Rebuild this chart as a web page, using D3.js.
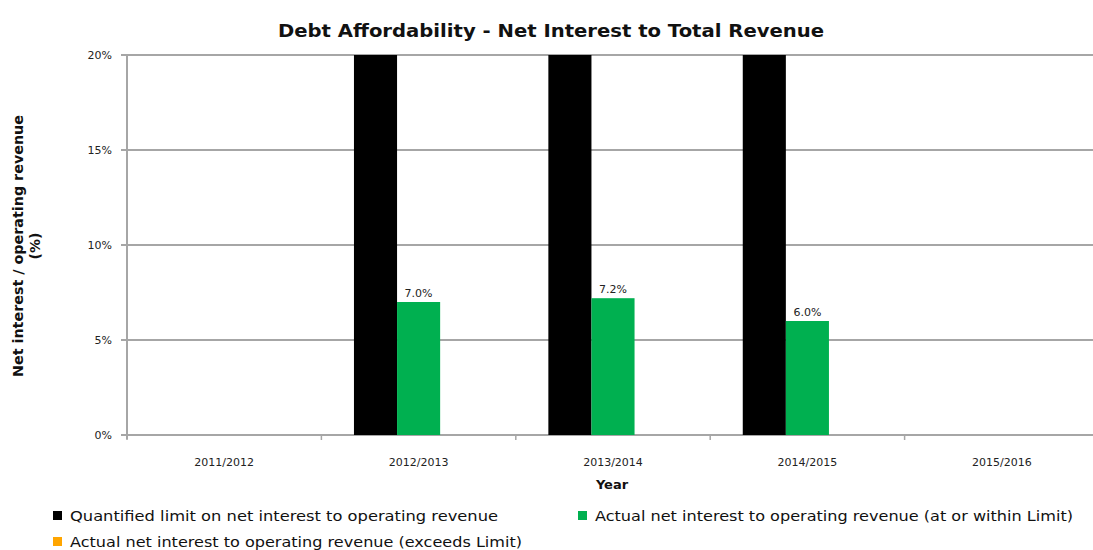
<!DOCTYPE html>
<html><head><meta charset="utf-8">
<script src="https://cdn.jsdelivr.net/npm/d3@7/dist/d3.min.js"></script>
<style>body{margin:0;background:#fff}svg{display:block}text{font-family:"DejaVu Sans",Verdana,sans-serif}</style>
</head><body><svg id="c" width="1093" height="550"></svg>
<script>
const categories = ["2011/2012","2012/2013","2013/2014","2014/2015","2015/2016"];
const seriesNames = ["Quantified limit on net interest to operating revenue",
  "Actual net interest to operating revenue (at or within Limit)",
  "Actual net interest to operating revenue (exceeds Limit)"];
const limitValues = [null, 20, 20, 20, null];
const withinValues = [null, 7.0, 7.2, 6.0, null];
const exceedsValues = [null, 0, 0, 0, null];
const yTicks = [0,5,10,15,20];
const colors = ["#000000","#00B050","#FFA500"];

const svg = d3.select("#c");
const mLeft = 127, mRight = 1099, mTop = 55, mBottom = 435;
const x0 = d3.scaleBand().domain(categories).range([mLeft,mRight]).paddingInner(0.335).paddingOuter(0.1675);
const x1 = d3.scaleBand().domain([0,1,2]).range([0,x0.bandwidth()]);
const y = d3.scaleLinear().domain([0,20]).range([mBottom,mTop]);

// gridlines
svg.append("g").selectAll("line").data(yTicks).join("line")
  .attr("x1",mLeft-6).attr("x2",mRight).attr("y1",d=>y(d)).attr("y2",d=>y(d))
  .attr("stroke","#A6A6A6").attr("stroke-width",2);
// y axis line
svg.append("line").attr("x1",mLeft).attr("x2",mLeft).attr("y1",mTop).attr("y2",mBottom+4)
  .attr("stroke","#A6A6A6").attr("stroke-width",2);
// x ticks at category boundaries
const step = x0.step();
svg.append("g").selectAll("line").data(d3.range(categories.length+1)).join("line")
  .attr("x1",i=>mLeft+i*step).attr("x2",i=>mLeft+i*step).attr("y1",mBottom).attr("y2",mBottom+5)
  .attr("stroke","#A6A6A6").attr("stroke-width",1.5);

// y tick labels
svg.append("g").selectAll("text").data(yTicks).join("text")
  .attr("x",112).attr("y",d=>y(d)+4).attr("text-anchor","end")
  .attr("font-size",11).attr("fill","#222").text(d=>d+"%");

const series = [limitValues, withinValues, exceedsValues];
series.forEach((vals,si)=>{
  svg.append("g").selectAll("rect").data(categories.map((c,i)=>({c,v:vals[i]})).filter(d=>d.v!=null && d.v>0)).join("rect")
    .attr("x",d=>x0(d.c)+x1(si)).attr("width",x1.bandwidth())
    .attr("y",d=>y(d.v)).attr("height",d=>y(0)-y(d.v)).attr("fill",colors[si]);
});
// data labels for within
svg.append("g").selectAll("text").data(categories.map((c,i)=>({c,v:withinValues[i]})).filter(d=>d.v!=null)).join("text")
  .attr("x",d=>x0(d.c)+x1(1)+x1.bandwidth()/2).attr("y",d=>y(d.v)-5)
  .attr("text-anchor","middle").attr("font-size",11).attr("fill","#222").text(d=>d.v.toFixed(1)+"%");

// x labels
svg.append("g").selectAll("text").data(categories).join("text")
  .attr("x",d=>x0(d)+x0.bandwidth()/2).attr("y",466).attr("text-anchor","middle")
  .attr("font-size",11).attr("fill","#222").text(d=>d);
svg.append("text").attr("x",612).attr("y",489).attr("text-anchor","middle")
  .attr("font-size",13).attr("font-weight","bold").attr("fill","#111").text("Year");

// y title
const yt = svg.append("text").attr("transform","translate(0,246) rotate(-90)").attr("text-anchor","middle")
  .attr("font-size",14).attr("font-weight","bold").attr("fill","#111");
yt.append("tspan").attr("x",0).attr("y",23).attr("textLength",262).attr("lengthAdjust","spacingAndGlyphs").text("Net interest / operating revenue");
yt.append("tspan").attr("x",0).attr("y",40).text("(%)");

// title
svg.append("text").attr("x",551).attr("y",37).attr("text-anchor","middle")
  .attr("font-family","'Liberation Sans',Arial,sans-serif")
  .attr("font-size",18).attr("font-weight","bold").attr("fill","#111")
  .attr("textLength",546).attr("lengthAdjust","spacingAndGlyphs")
  .text("Debt Affordability - Net Interest to Total Revenue");

// legend
const legendPos = [{x:53,y:516,w:428},{x:578,y:516,w:478},{x:53,y:542,w:452}];
seriesNames.forEach((n,i)=>{
  const p = legendPos[i];
  svg.append("rect").attr("x",p.x).attr("y",p.y-5).attr("width",9).attr("height",9).attr("fill",colors[i]);
  svg.append("text").attr("x",p.x+17).attr("y",p.y+5).attr("font-size",14).attr("fill","#111")
    .attr("textLength",p.w).attr("lengthAdjust","spacingAndGlyphs").text(n);
});
</script></body></html>
